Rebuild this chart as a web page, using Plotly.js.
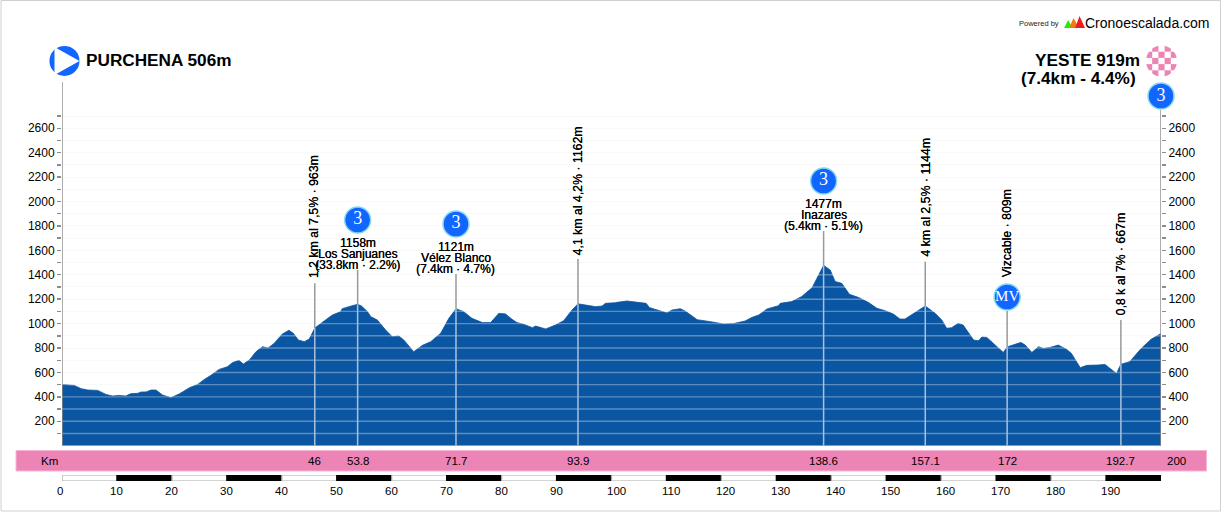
<!DOCTYPE html>
<html><head><meta charset="utf-8">
<script src="https://cdn.plot.ly/plotly-3.0.1.min.js"></script>
<style>html,body{margin:0;padding:0;background:#fff;overflow:hidden}</style>
</head><body><div id="chart" style="width:1222px;height:512px"></div>
<script>
const profileKm = [0,0.1,2.2,3.5,4.7,6.5,8,9.2,10.4,11.6,12.5,13.8,14.4,15.3,16.2,17.1,18.3,19.8,21.3,23.2,24.7,25.9,27.1,28.6,30.1,31,32.2,33,34.1,35.3,36.5,37.5,38.6,40.1,41.3,42.1,43,44.1,45,46,47.7,49.2,50.7,51,52.2,53.8,54.5,55.6,56.2,57.4,58.9,60.1,61.3,62.2,64,65.6,67.1,68.9,70.4,71.7,73.1,74.6,76.5,78,79.5,80.7,81.9,82.8,84,85.6,86.2,88,89.8,91.3,92.8,93.9,95.3,97.1,98.3,98.9,100.7,101,102.8,104.3,106.3,106.9,108.3,110.1,111,112.5,113.4,114.3,115.6,118,120.4,122.2,124.3,125.6,126.8,128.3,130.4,130.7,132.8,134.6,136.5,137.7,138.6,139.8,140.7,141.9,143.3,145,146.8,148.3,149.8,151.3,152.5,153.4,154.3,155.9,157.1,158.9,160.1,161,161.9,163.1,164,165.9,166.8,167.4,168.3,169.5,171.3,172,173.1,174.5,175.3,176.5,177.7,178.6,179.8,181.3,182.8,183.7,185.3,186.5,188.6,189.8,191.9,192.7,194.3,196.4,198.2,199.8,200];
const profileElev = [506,502,494,467,456,453,420,407,412,407,426,429,440,440,456,456,415,393,423,475,502,543,576,625,647,680,699,669,702,770,811,800,838,915,945,920,866,852,874,963,1021,1070,1098,1122,1139,1158,1144,1098,1057,1029,947,893,898,866,770,822,852,920,1043,1121,1098,1043,1008,1008,1084,1079,1035,1008,994,967,980,956,988,1024,1111,1162,1152,1139,1144,1166,1171,1174,1185,1177,1166,1131,1111,1087,1111,1122,1103,1071,1032,1016,997,1000,1021,1051,1071,1120,1147,1166,1180,1221,1294,1398,1477,1439,1344,1330,1240,1213,1172,1125,1106,1078,1037,1037,1062,1106,1144,1084,1029,961,967,1002,988,865,860,890,887,838,764,809,824,846,824,764,811,797,805,824,789,756,639,658,661,666,592,667,688,797,871,909,919];

const yTicks = [100,200,300,400,500,600,700,800,900,1000,1100,1200,1300,1400,1500,1600,1700,1800,1900,2000,2100,2200,2300,2400,2500,2600,2700];
const yLabels = ['','200','','400','','600','','800','','1000','','1200','','1400','','1600','','1800','','2000','','2200','','2400','','2600',''];

const poiKm = [46,53.8,71.7,93.9,138.6,157.1,172,192.7];
const poiElev = [963,1158,1121,1162,1477,1144,809,667];
const poiTop = [1330,1439,1406,1529,1758,1507,1103,1029];
const bandLabels = ['46','53.8','71.7','93.9','138.6','157.1','172','192.7'];

const badgeKm = [53.8,71.7,138.6,172,200];
const badgeHeight = [1849,1816,2168,1218,2864];
const badgeText = ['3','3','3','MV','3'];
const badgeFont = [18,18,18,15,18];

const verticalLabels = [
  {km:46,text:'1,2 km al 7,5% · 963m',py:278},
  {km:93.9,text:'4,1 km al 4,2% · 1162m',py:255},
  {km:157.1,text:'4 km al 2,5% · 1144m',py:257},
  {km:172,text:'Vizcable · 809m',py:277},
  {km:192.7,text:'0,8 k al 7% · 667m',py:315}
];
const climbLabels = [
  {km:53.8,lines:['1158m','Los Sanjuanes','(33.8km · 2.2%)'],py:243},
  {km:71.7,lines:['1121m','Vélez Blanco','(7.4km · 4.7%)'],py:247},
  {km:138.6,lines:['1477m','Inazares','(5.4km · 5.1%)'],py:204}
];
const scaleKm = [0,10,20,30,40,50,60,70,80,90,100,110,120,130,140,150,160,170,180,190];

const SANS = '"Liberation Sans", Arial, sans-serif';
const SERIF = '"Liberation Serif", "Times New Roman", serif';
const INK = '#000';
const AXIS = '#8c8c8c';
const FILL = '#0b56a2';
const PINK = '#ec84b6';
const BLUE = '#1166ff';
const BOLDISH = '0.25px 0 0 #000';

const LEFT = 61.5, W = 1099.5, PLOT_H = 481, YMAX = 445.7 / 0.1221;
const X = px => (px - LEFT) / W;
const Y = py => (PLOT_H - py) / PLOT_H;

const join = (a, f) => a.flatMap(v => f(v).concat([null]));

const traces = [
  {type:'scatter',mode:'lines',x:profileKm,y:profileElev,fill:'tozeroy',fillcolor:FILL,
   line:{color:FILL,width:0.8,shape:'linear'},cliponaxis:true},
  {type:'scatter',mode:'lines',x:join(yTicks,()=>[0,200]),y:join(yTicks,t=>[t,t]),
   line:{color:'rgba(255,255,255,0.33)',width:1.4}},
  {type:'scatter',mode:'lines',x:join(poiKm,k=>[k,k]),y:poiKm.flatMap((k,i)=>[0,poiElev[i],null]),
   line:{color:'#a9c1de',width:1.5}},
  {type:'scatter',mode:'lines',x:join(poiKm,k=>[k,k]),y:poiKm.flatMap((k,i)=>[poiElev[i],poiTop[i],null]),
   line:{color:'#999',width:1.5}},
  {type:'scatter',mode:'lines',x:[0,0],y:[0,2979],line:{color:AXIS,width:1.4}},
  {type:'scatter',mode:'lines',x:[200,200],y:[0,2750],line:{color:AXIS,width:1.4},yaxis:'y2'},
  {type:'scatter',mode:'markers+text',x:badgeKm,y:badgeHeight,yaxis:'y2',cliponaxis:false,
   marker:{size:26,color:BLUE,line:{color:'#86d8f2',width:1.4}},
   text:badgeText,textposition:'middle center',
   textfont:{family:SERIF,size:badgeFont,color:'#fff'}},
  {type:'scatter',mode:'markers',x:[0.45],y:[3151],yaxis:'y2',cliponaxis:false,
   marker:{size:30,color:BLUE,line:{width:0}}},
  {type:'bar',x:scaleKm.map(k=>k+5),y:scaleKm.map(()=>1),width:scaleKm.map(()=>10),xaxis:'x2',yaxis:'y3',
   marker:{color:scaleKm.map((k,i)=>i%2?'#000':'#fff'),
           line:{color:scaleKm.map((k,i)=>i%2?'#000':'#a8a8a8'),width:1.2}}}
];

const annotations = [];
function note(o){annotations.push(Object.assign({showarrow:false,xref:'paper',yref:'paper',borderpad:0,borderwidth:0,
  font:{family:SANS,size:12,color:INK}},o));}

const HEAD = {family:SANS,size:17.2,color:INK,weight:700};
note({x:X(86),y:Y(60),xanchor:'left',yanchor:'middle',text:'PURCHENA 506m',font:HEAD});
note({x:X(1140),y:Y(60),xanchor:'right',yanchor:'middle',text:'YESTE 919m',font:HEAD});
note({x:X(1136),y:Y(78),xanchor:'right',yanchor:'middle',text:'(7.4km - 4.4%)',font:HEAD});
note({x:X(1019),y:Y(23.5),xanchor:'left',yanchor:'middle',text:'Powered by',font:{family:SANS,size:7.5,color:'#222'}});
note({x:X(1085),y:Y(23),xanchor:'left',yanchor:'middle',text:'Cronoescalada.com',font:{family:SANS,size:14,color:INK}});
note({x:X(49),y:Y(461),xanchor:'center',yanchor:'middle',text:'Km',font:{family:SANS,size:11.5,color:INK}});

verticalLabels.forEach(v=>note({xref:'x',x:v.km,y:Y(v.py),xanchor:'center',yanchor:'bottom',textangle:-90,
  text:v.text,font:{family:SANS,size:12.3,color:INK,shadow:BOLDISH}}));
climbLabels.forEach(c=>c.lines.forEach((t,i)=>note({xref:'x',x:c.km,y:Y(c.py+i*11),xanchor:'center',yanchor:'middle',
  text:t,font:{family:SANS,size:12,color:INK,shadow:BOLDISH}})));
poiKm.forEach((k,i)=>note({xref:'x',x:k,y:Y(461),xanchor:'center',yanchor:'middle',text:bandLabels[i],font:{family:SANS,size:11.5,color:INK}}));
note({xref:'x',x:200,xshift:15,y:Y(461),xanchor:'center',yanchor:'middle',text:'200',font:{family:SANS,size:11.5,color:INK}});
scaleKm.forEach(k=>note({xref:'x',x:k,xshift:k===0?-2:(k>=100?4.5:0),y:Y(491),xanchor:'center',yanchor:'middle',text:String(k),font:{family:SANS,size:11.5,color:INK}}));

const tri = (a,b,c,color)=>({type:'path',xref:'paper',yref:'paper',layer:'above',fillcolor:color,line:{width:0},
  path:`M${X(a[0])},${Y(a[1])}L${X(b[0])},${Y(b[1])}L${X(c[0])},${Y(c[1])}Z`});

const shapes = [
  {type:'rect',xref:'paper',yref:'paper',x0:X(15.5),x1:X(1206.5),y0:Y(471),y1:Y(450.5),fillcolor:PINK,line:{color:'#f6b6d4',width:1},layer:'below'},
  {type:'rect',xref:'paper',yref:'paper',x0:X(0.5),x1:X(1220.5),y0:Y(511),y1:Y(0.5),fillcolor:'rgba(0,0,0,0)',line:{color:'#cfcfcf',width:1},layer:'below'},
  tri([1064,28],[1068,20],[1072.5,28],'#22ee00'),
  tri([1069,28],[1073.5,18],[1079,28],'#f47a10'),
  tri([1075,28],[1079.5,16],[1085,28],'#ee1c1c'),
  tri([54,47],[79,61],[54,75],'#fff')
];

let cells = '';
for (let j=0;j<5;j++) for (let i=0;i<5;i++) if ((i+j)%2===1)
  cells += `<rect x="${i*6.2}" y="${j*6.2}" width="6.2" height="6.2" fill="${PINK}"/>`;
const checker = 'data:image/svg+xml,' + encodeURIComponent(
  `<svg xmlns="http://www.w3.org/2000/svg" width="31" height="31" viewBox="0 0 31 31"><defs><clipPath id="c"><circle cx="15.5" cy="15.5" r="15.5"/></clipPath></defs><g clip-path="url(#c)">${cells}</g></svg>`);

const yAxisBase = {range:[0,YMAX],tickmode:'array',tickvals:yTicks,ticktext:yLabels,ticks:'outside',ticklen:4,tickwidth:1.4,
  tickcolor:AXIS,showline:false,zeroline:false,tickfont:{family:SANS,size:12,color:INK},fixedrange:true};

const layout = {
  width:1222,height:512,paper_bgcolor:'#fff',plot_bgcolor:'rgba(0,0,0,0)',showlegend:false,
  margin:{l:LEFT,r:1222-LEFT-W,t:0,b:31,pad:0,autoexpand:false},bargap:0,hovermode:false,
  xaxis:{range:[0,200],domain:[0,1],showgrid:false,zeroline:false,showline:false,ticks:'',showticklabels:false,anchor:'y'},
  yaxis:Object.assign({},yAxisBase,{domain:[(PLOT_H-445.7)/PLOT_H,1],side:'left',showgrid:true,gridcolor:'#f7f7f7',gridwidth:1,anchor:'x'}),
  yaxis2:Object.assign({},yAxisBase,{overlaying:'y',side:'right',showgrid:false,anchor:'x'}),
  xaxis2:{range:[0,200],domain:[0,1],anchor:'y3',showgrid:false,zeroline:false,showline:false,ticks:'',showticklabels:false},
  yaxis3:{range:[0,1],domain:[0,6/PLOT_H],anchor:'x2',showgrid:false,zeroline:false,showline:false,ticks:'',showticklabels:false},
  annotations,shapes,
  images:[{source:checker,xref:'paper',yref:'paper',x:X(1146),y:Y(45.5),sizex:31/W,sizey:31/PLOT_H,sizing:'stretch',xanchor:'left',yanchor:'top',layer:'above'}]
};
Plotly.newPlot('chart',traces,layout,{displayModeBar:false,staticPlot:true});
</script></body></html>
